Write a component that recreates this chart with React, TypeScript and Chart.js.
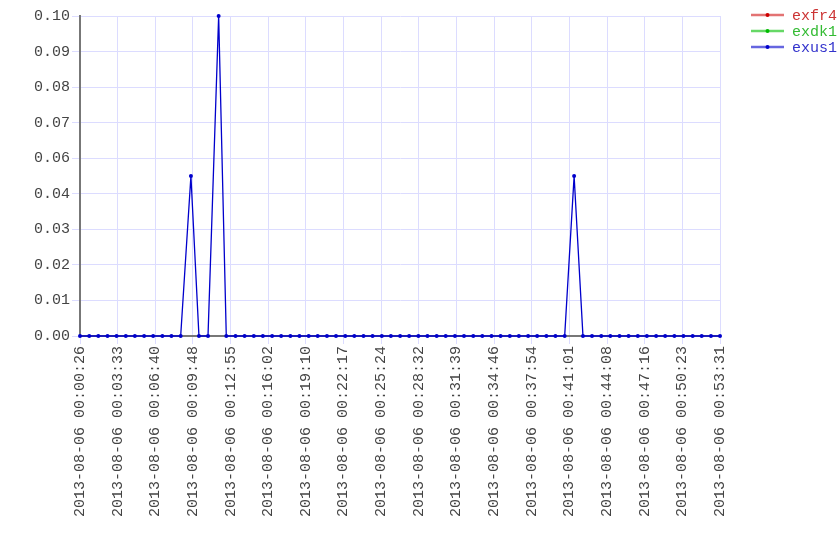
import React, { useEffect, useRef } from "react";
import { Chart, registerables } from "chart.js";

Chart.register(...registerables);

const seriesNames = ["exfr4", "exdk1", "exus1"];
const seriesColors = ["#cc0000", "#00bb00", "#0000cc"];
const legendTextColors = ["#cc3333", "#33bb33", "#3333cc"];
const legendLineColors = ["rgba(204,0,0,0.55)", "rgba(0,190,0,0.6)", "rgba(0,0,204,0.6)"];

// seconds after 2013-08-06 00:00:00
const timesSec = [
  26, 72, 117, 163, 208, 254, 299, 345, 390, 436, 481, 527, 578, 618, 663, 716,
  754, 800, 845, 891, 936, 982, 1027, 1073, 1118, 1164, 1209, 1255, 1300, 1346,
  1391, 1437, 1482, 1528, 1573, 1619, 1664, 1710, 1755, 1801, 1846, 1892, 1937,
  1983, 2028, 2074, 2119, 2165, 2210, 2256, 2301, 2347, 2392, 2438, 2485, 2529,
  2574, 2620, 2665, 2711, 2756, 2802, 2847, 2893, 2938, 2984, 3029, 3075, 3120,
  3166, 3211,
];

const exus1 = [
  0, 0, 0, 0, 0, 0, 0, 0, 0, 0, 0, 0, 0.05, 0, 0, 0.1,
  0, 0, 0, 0, 0, 0, 0, 0, 0, 0, 0, 0, 0, 0,
  0, 0, 0, 0, 0, 0, 0, 0, 0, 0, 0, 0, 0,
  0, 0, 0, 0, 0, 0, 0, 0, 0, 0, 0, 0.05, 0,
  0, 0, 0, 0, 0, 0, 0, 0, 0, 0, 0, 0, 0,
  0, 0,
];
// no visible data for these two series
const exfr4: (number | null)[] = timesSec.map(() => null);
const exdk1: (number | null)[] = timesSec.map(() => null);

const xTickLabels = [
  "2013-08-06 00:00:26", "2013-08-06 00:03:33", "2013-08-06 00:06:40",
  "2013-08-06 00:09:48", "2013-08-06 00:12:55", "2013-08-06 00:16:02",
  "2013-08-06 00:19:10", "2013-08-06 00:22:17", "2013-08-06 00:25:24",
  "2013-08-06 00:28:32", "2013-08-06 00:31:39", "2013-08-06 00:34:46",
  "2013-08-06 00:37:54", "2013-08-06 00:41:01", "2013-08-06 00:44:08",
  "2013-08-06 00:47:16", "2013-08-06 00:50:23", "2013-08-06 00:53:31",
];

const yTickLabels = ["0.00", "0.01", "0.02", "0.03", "0.04", "0.06", "0.07", "0.08", "0.09", "0.10"];

const FONT = "'Liberation Mono', 'DejaVu Sans Mono', monospace";

const legendPlugin = {
  id: "customLegend",
  afterDraw(chart: any) {
    const ctx = chart.ctx;
    ctx.save();
    seriesNames.forEach((name, i) => {
      const y = 15 + i * 16;
      ctx.strokeStyle = legendLineColors[i];
      ctx.lineWidth = 2.5;
      ctx.beginPath();
      ctx.moveTo(751, y);
      ctx.lineTo(784, y);
      ctx.stroke();
      ctx.fillStyle = seriesColors[i];
      ctx.beginPath();
      ctx.arc(767.5, y, 2, 0, Math.PI * 2);
      ctx.fill();
      ctx.fillStyle = legendTextColors[i];
      ctx.font = `15px ${FONT}`;
      ctx.textBaseline = "middle";
      ctx.textAlign = "left";
      ctx.fillText(name, 792, y + 1);
    });
    ctx.restore();
  },
};

export default function App() {
  const ref = useRef<HTMLCanvasElement>(null);
  useEffect(() => {
    document.body.style.margin = "0";
    const data = [exfr4, exdk1, exus1];
    const datasets = seriesNames.map((name, i) => ({
      label: name,
      data: timesSec.map((t, j) => ({ x: t, y: data[i][j] })),
      borderColor: seriesColors[i],
      backgroundColor: seriesColors[i],
      borderWidth: 1.3,
      pointRadius: 2,
      pointBorderWidth: 0,
      pointHoverRadius: 2,
      tension: 0,
      clip: 4,
    }));
    const minT = timesSec[0];
    const maxT = timesSec[timesSec.length - 1];
    const yMax = 0.1;
    const chart = new Chart(ref.current!, {
      type: "line",
      data: { datasets },
      plugins: [legendPlugin],
      options: {
        animation: false,
        responsive: false,
        maintainAspectRatio: false,
        layout: { padding: { top: 16, right: 120, left: 0, bottom: 0 } },
        plugins: { legend: { display: false }, tooltip: { enabled: false } },
        scales: {
          x: {
            type: "linear",
            min: minT,
            max: maxT,
            afterBuildTicks(axis: any) {
              axis.ticks = xTickLabels.map((_, k) => ({
                value: minT + (k * (maxT - minT)) / (xTickLabels.length - 1),
              }));
            },
            afterFit(axis: any) {
              axis.height = 224;
            },
            ticks: {
              autoSkip: false,
              maxRotation: 90,
              minRotation: 90,
              padding: 2,
              color: "#444",
              font: { family: FONT, size: 15 },
              callback: (_v: any, idx: number) => xTickLabels[idx],
            },
            grid: { color: "#dcdcff", tickLength: 8, lineWidth: 1 },
            border: { color: "#777", width: 2 },
          },
          y: {
            min: 0,
            max: yMax,
            afterBuildTicks(axis: any) {
              axis.ticks = yTickLabels.map((_, k) => ({
                value: (k * yMax) / (yTickLabels.length - 1),
              }));
            },
            afterFit(axis: any) {
              axis.width = 80;
            },
            ticks: {
              padding: 2,
              color: "#444",
              font: { family: FONT, size: 15 },
              callback: (_v: any, idx: number) => yTickLabels[idx],
            },
            grid: { color: "#dcdcff", tickLength: 8, lineWidth: 1 },
            border: { color: "#777", width: 2 },
          },
        },
      },
    });
    return () => chart.destroy();
  }, []);
  return <canvas ref={ref} width={840} height={560} style={{ display: "block" }} />;
}
